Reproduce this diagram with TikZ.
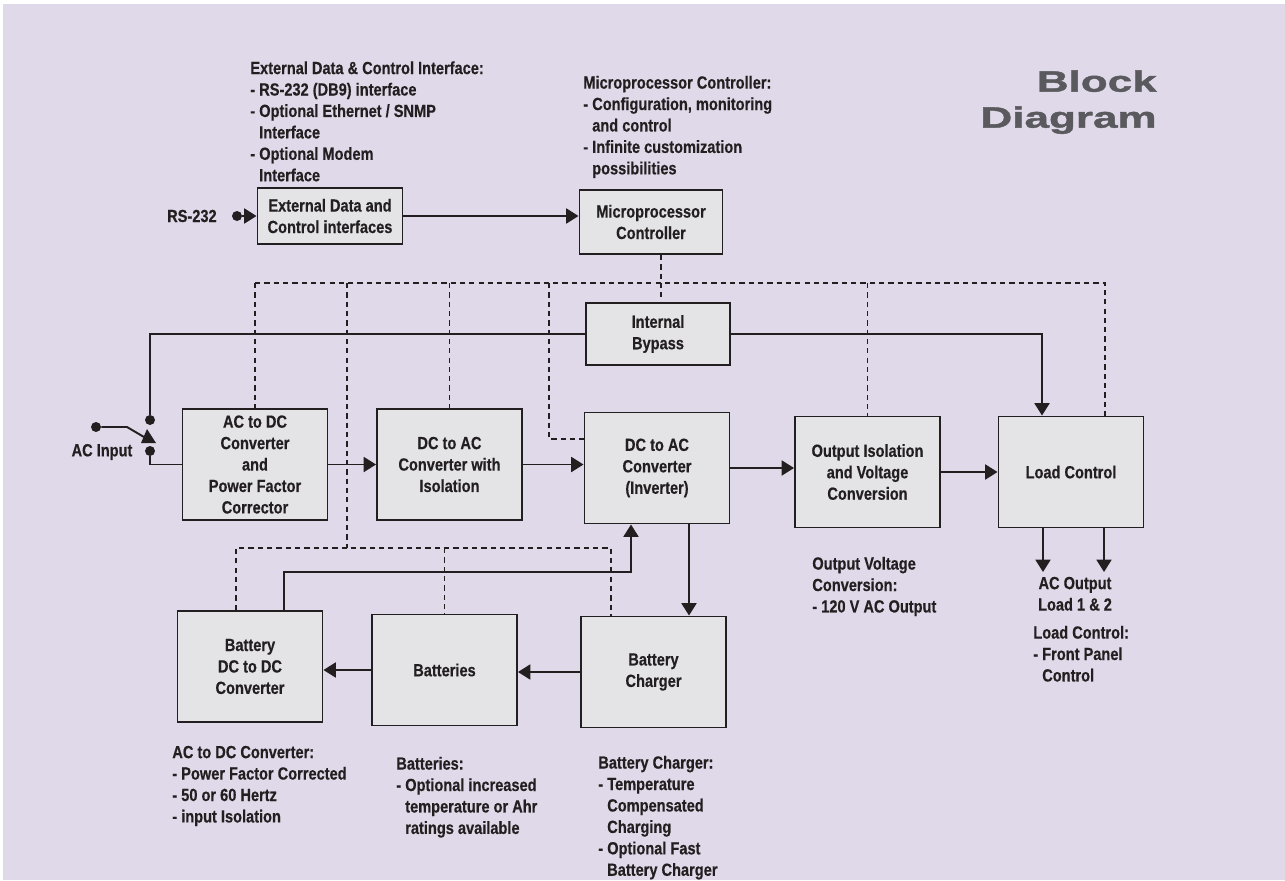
\documentclass[tikz,border=0pt]{standalone}
\usepackage{fontspec}
\setmainfont{Liberation Sans}[FakeStretch=0.83, FakeBold=0.4]
\newfontfamily\titlefont{Liberation Sans}[FakeStretch=1.5, FakeBold=1.5]
\usepackage{xcolor}
\usetikzlibrary{arrows.meta}
\definecolor{paper}{RGB}{224,217,233}
\definecolor{boxfill}{RGB}{228,228,231}
\definecolor{ink}{RGB}{35,31,32}
\definecolor{titlegray}{RGB}{90,90,94}
\newcommand{\boxfont}{\bfseries\fontsize{10}{12.2}\selectfont}
\tikzstyle{block} = [rectangle, minimum width=2.9cm, minimum height=2.22cm, inner sep=2pt, text centered, align=center, draw=ink, fill=boxfill, line width=1.1pt, text=ink, font=\boxfont]
\tikzstyle{note} = [anchor=north west, align=left, inner sep=0pt, text=ink, font=\boxfont]
\tikzstyle{titletext} = [anchor=north east, align=right, inner sep=0pt, text=titlegray, font=\titlefont\bfseries\fontsize{16.7}{20.5}\selectfont]
\tikzstyle{dot} = [circle, fill=ink, inner sep=0pt, minimum size=0.2cm]
\tikzstyle{wire} = [draw=ink, line width=1.1pt]
\tikzstyle{arrow} = [wire, -{Triangle[length=7pt,width=8.5pt]}]
\tikzstyle{ctrl} = [draw=ink, line width=0.85pt, dash pattern=on 3pt off 2.3pt]

\begin{document}
\begin{tikzpicture}[x=0.2mm, y=-0.2mm]
	\fill [white] (0,0) rectangle (1285,880);
	\useasboundingbox (0,0) rectangle (1285,880);
	\fill [paper] (3,4) rectangle (1285,880);
	
	\node (title) [titletext] at (1157,70) {Block\\Diagram};
	
	% notes
	\node (extnote) [note] at (250,61) {External Data \& Control Interface:\\- RS-232 (DB9) interface\\- Optional Ethernet / SNMP\\\phantom{- }Interface\\- Optional Modem\\\phantom{- }Interface};
	\node (micronote) [note] at (583,75.5) {Microprocessor Controller:\\- Configuration, monitoring\\\phantom{- }and control\\- Infinite customization\\\phantom{- }possibilities};
	\node (acnote) [note] at (172,745.5) {AC to DC Converter:\\- Power Factor Corrected\\- 50 or 60 Hertz\\- input Isolation};
	\node (battnote) [note] at (396,756.5) {Batteries:\\- Optional increased\\\phantom{- }temperature or Ahr\\\phantom{- }ratings available};
	\node (chgnote) [note] at (598,755.5) {Battery Charger:\\- Temperature\\\phantom{- }Compensated\\\phantom{- }Charging\\- Optional Fast\\\phantom{- }Battery Charger};
	\node (outnote) [note] at (812,556.5) {Output Voltage\\Conversion:\\- 120 V AC Output};
	\node (acout) [note, anchor=north, align=center] at (1075,576.5) {AC Output\\Load 1 \& 2};
	\node (loadnote) [note] at (1033,625.5) {Load Control:\\- Front Panel\\\phantom{- }Control};
	
	% blocks
	\node (extif) [block, minimum height=1.12cm] at (330,216) {External Data and\\Control interfaces};
	\node (micro) [block, minimum width=2.86cm, minimum height=1.28cm] at (651,222) {Microprocessor\\Controller};
	\node (bypass) [block, minimum width=2.88cm, minimum height=1.24cm] at (658,334) {Internal\\Bypass};
	\node (acdc) [block] at (255,464.5) {AC to DC\\Converter\\and\\Power Factor\\Corrector};
	\node (dcac) [block] at (449.5,464.5) {DC to AC\\Converter with\\Isolation};
	\node (inv) [block] at (657,468) {DC to AC\\Converter\\(Inverter)};
	\node (outiso) [block] at (867.5,472) {Output Isolation\\and Voltage\\Conversion};
	\node (load) [block] at (1071,472) {Load Control};
	\node (dcdc) [block] at (250,666.5) {Battery\\DC to DC\\Converter};
	\node (batt) [block] at (444.5,670) {Batteries};
	\node (chg) [block] at (653.5,672) {Battery\\Charger};
	
	% inputs and switch
	\node (rsdot) [dot] at (237,216) {};
	\node (rslbl) [note, anchor=east] at (217,216) {RS-232};
	\node (acin) [dot] at (96,427) {};
	\node (aclbl) [note, anchor=center] at (102,452) {AC Input};
	\node (swtop) [dot] at (150,420) {};
	\node (swbot) [dot] at (150,451) {};
	\coordinate (swbend) at (127,427);
	\coordinate (swarm) at (144,437);
	
	\coordinate (busL) at (255,283);
	\coordinate (busR) at (1105,283);
	\coordinate (tap1) at (347,283);
	\coordinate (tap2) at (549,283);
	\coordinate (mtap) at (661,283);
	\coordinate (lowL) at (236,548);
	\coordinate (lowR) at (611,548);
	\coordinate (fb) at (631,572);
	\coordinate (ac1) at (1043,572);
	\coordinate (ac2) at (1104,572);
	\coordinate (chgin) at ([xshift=0.64cm]inv.south);
	
	% control lines
	\draw [ctrl] (acdc.north |- busL) -- (busR) -- (busR |- load.north);
	\draw [ctrl] (acdc.north |- busL) -- (acdc.north);
	\draw [ctrl] (mtap |- micro.south) -- (mtap |- bypass.north);
	\draw [ctrl] (tap1) -- (tap1 |- lowL);
	\draw [ctrl] (dcac.north |- busL) -- (dcac.north);
	\draw [ctrl] (tap2) |- ([yshift=0.58cm]inv.west);
	\draw [ctrl] (outiso.north |- busL) -- (outiso.north);
	\draw [ctrl] (lowL |- dcdc.north) -- (lowL) -- (lowR) -- (lowR |- chg.north);
	\draw [ctrl] (batt.north |- lowL) -- (batt.north);
	
	% power and data lines
	\draw [arrow] (rsdot) -- (extif);
	\draw [arrow] (extif.east) -- (extif.east -| micro.west);
	\draw [wire] (acin) -- (swbend) -- (swarm);
	\fill [ink] (147,429) -- (141,443) -- (156,443) -- cycle;
	\draw [wire] (swtop) |- (bypass);
	\draw [wire] (swbot) |- (acdc);
	\draw [arrow] (acdc) -- (dcac);
	\draw [arrow] (dcac.east) -- (dcac.east -| inv.west);
	\draw [arrow] (inv.east) -- (inv.east -| outiso.west);
	\draw [arrow] (outiso.east) -- (outiso.east -| load.west);
	\draw [arrow] (bypass.east) -| ([xshift=-0.58cm]load.north);
	\draw [arrow] (chgin) -- (chgin |- chg.north);
	\draw [arrow] (chg.west) -- (chg.west -| batt.east);
	\draw [arrow] (batt.west) -- (batt.west -| dcdc.east);
	\draw [arrow] ([xshift=0.68cm]dcdc.north) |- (fb) -- (fb |- inv.south);
	\draw [arrow] (ac1 |- load.south) -- (ac1);
	\draw [arrow] (ac2 |- load.south) -- (ac2);
\end{tikzpicture}
\end{document}
